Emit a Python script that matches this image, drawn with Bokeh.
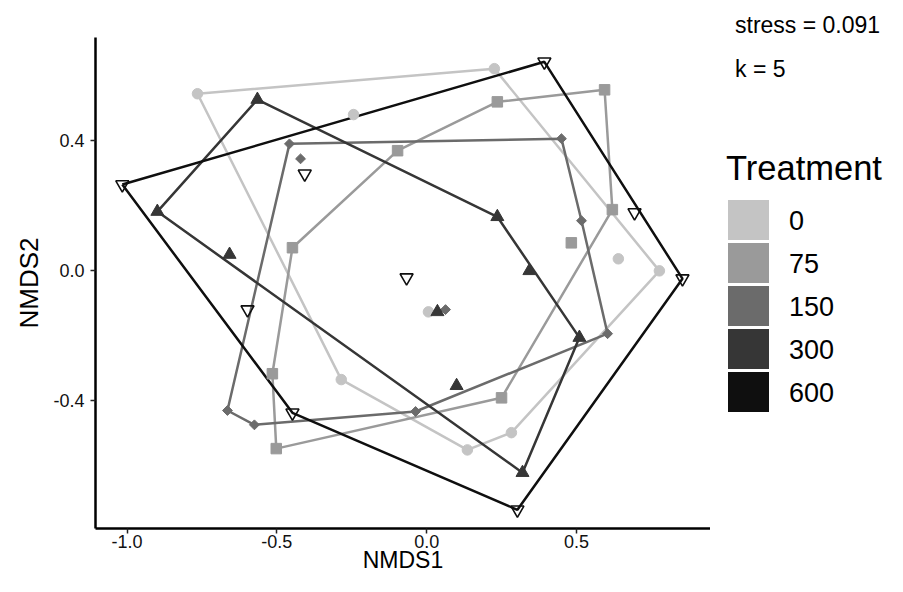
from bokeh.plotting import figure
from bokeh.models import Range1d, FixedTicker, PrintfTickFormatter, Div
from bokeh.layouts import row
from bokeh.embed import file_html
from bokeh.resources import INLINE

# ---------------- data ----------------
treatments = ["0", "75", "150", "300", "600"]
colors = ["#c4c4c4", "#9a9a9a", "#6b6b6b", "#363636", "#0f0f0f"]
markers = ["circle", "square", "diamond", "triangle", "inverted_triangle"]

nmds1_t0 = [-0.765, 0.226, -0.244, 0.640, 0.777, 0.283, 0.136, -0.285, 0.006]
nmds2_t0 = [0.543, 0.620, 0.479, 0.036, -0.001, -0.498, -0.551, -0.335, -0.127]

nmds1_t75 = [0.236, 0.594, 0.620, 0.483, 0.250, -0.502, -0.515, -0.448, -0.097]
nmds2_t75 = [0.518, 0.555, 0.187, 0.085, -0.391, -0.547, -0.317, 0.070, 0.368]

nmds1_t150 = [-0.458, 0.450, 0.517, 0.604, -0.037, -0.575, -0.665, -0.421, 0.063]
nmds2_t150 = [0.389, 0.405, 0.153, -0.194, -0.433, -0.474, -0.430, 0.343, -0.120]

nmds1_t300 = [-0.565, 0.236, 0.343, 0.510, 0.320, 0.100, -0.658, -0.899, 0.036]
nmds2_t300 = [0.525, 0.165, -0.001, -0.206, -0.621, -0.354, 0.049, 0.181, -0.127]

nmds1_t600 = [-1.016, 0.393, 0.854, 0.303, -0.448, -0.407, -0.598, 0.694, -0.067]
nmds2_t600 = [0.264, 0.641, -0.025, -0.735, -0.437, 0.297, -0.120, 0.178, -0.022]

x_ticks = [-1.0, -0.5, 0.0, 0.5]
y_ticks = [-0.4, 0.0, 0.4]
stress = 0.091
k_dims = 5

groups = [
    (nmds1_t0, nmds2_t0),
    (nmds1_t75, nmds2_t75),
    (nmds1_t150, nmds2_t150),
    (nmds1_t300, nmds2_t300),
    (nmds1_t600, nmds2_t600),
]


def convex_hull(xs, ys):
    pts = sorted(zip(xs, ys))

    def cross(o, a, b):
        return (a[0] - o[0]) * (b[1] - o[1]) - (a[1] - o[1]) * (b[0] - o[0])

    lower = []
    for pt in pts:
        while len(lower) >= 2 and cross(lower[-2], lower[-1], pt) <= 0:
            lower.pop()
        lower.append(pt)
    upper = []
    for pt in reversed(pts):
        while len(upper) >= 2 and cross(upper[-2], upper[-1], pt) <= 0:
            upper.pop()
        upper.append(pt)
    hull = lower[:-1] + upper[:-1]
    hull.append(hull[0])
    return [h[0] for h in hull], [h[1] for h in hull]


# ---------------- layout constants ----------------
W_TOTAL, H = 887, 576
B_LEFT, B_TOP = 95, 37
FRAME_W, FRAME_H = 615, 491
B_BOTTOM = H - B_TOP - FRAME_H
W_MAIN = B_LEFT + FRAME_W
XR = (-1.1055, 0.9476)
YR = (-0.7924, 0.7157)
FONT = "Liberation Sans"

p = figure(width=W_MAIN, height=H,
           x_range=Range1d(*XR), y_range=Range1d(*YR),
           output_backend="svg", toolbar_location=None,
           min_border_left=B_LEFT, min_border_right=0,
           min_border_top=B_TOP, min_border_bottom=B_BOTTOM)
p.xgrid.visible = False
p.ygrid.visible = False
p.outline_line_color = None
p.background_fill_color = "white"
p.border_fill_color = "white"

for (gx, gy), col in zip(groups, colors):
    hx, hy = convex_hull(gx, gy)
    p.line(hx, hy, line_color=col, line_width=2.5)

for (gx, gy), col, mk in zip(groups, colors, markers):
    if mk == "inverted_triangle":
        p.scatter(gx, gy, marker=mk, size=13, fill_alpha=0,
                  line_color=col, line_width=1.6)
    elif mk == "diamond":
        p.scatter(gx, gy, marker="square", angle=0.7854, size=7,
                  fill_color=col, line_color=col)
    elif mk == "triangle":
        p.scatter(gx, gy, marker=mk, size=13, fill_color=col, line_color=col)
    else:
        p.scatter(gx, gy, marker=mk, size=10.5, fill_color=col, line_color=col)

p.xaxis.ticker = FixedTicker(ticks=x_ticks)
p.yaxis.ticker = FixedTicker(ticks=y_ticks)
for ax in (p.xaxis[0], p.yaxis[0]):
    ax.formatter = PrintfTickFormatter(format="%.1f")
    ax.axis_line_color = "black"
    ax.axis_line_width = 2.5
    ax.major_tick_line_color = "#222222"
    ax.major_tick_line_width = 1.5
    ax.major_tick_in = 0
    ax.major_tick_out = 5
    ax.minor_tick_line_color = None
    ax.major_label_text_font = FONT
    ax.major_label_text_font_size = "18px"
    ax.major_label_text_color = "#111111"
    ax.axis_label_text_font = FONT
    ax.axis_label_text_font_style = "normal"
    ax.axis_label_text_color = "black"

p.yaxis.major_label_standoff = 6
p.yaxis.axis_label = "NMDS2"
p.yaxis.axis_label_text_font_size = "26px"
p.yaxis.axis_label_standoff = 6

p.xaxis.major_label_standoff = 1
p.xaxis.axis_label = "NMDS1"
p.xaxis.axis_label_text_font_size = "23px"
p.xaxis.axis_label_standoff = -4

# ---------------- side panel: annotation + legend (inline SVG text) ----------------
W_SIDE = W_TOTAL - W_MAIN
key_left, key_w, key_h, key_gap, key_top = 18, 41, 40, 3, 200
label_left = 79

parts = [f'<svg xmlns="http://www.w3.org/2000/svg" width="{W_SIDE}" height="{H}" '
         f'style="display:block">']
parts.append(f'<text x="25" y="33" font-family="Lato" font-size="23" fill="#000">'
             f'stress = {stress:.3f}</text>')
parts.append(f'<text x="25" y="77" font-family="Lato" font-size="23" fill="#000">'
             f'k = {k_dims}</text>')
parts.append(f'<text x="16" y="180" font-family="{FONT}" font-size="34.5" fill="#000">'
             f'Treatment</text>')
for i, (lab, col) in enumerate(zip(treatments, colors)):
    top = key_top + i * (key_h + key_gap)
    parts.append(f'<rect x="{key_left}" y="{top}" width="{key_w}" height="{key_h}" '
                 f'fill="{col}"/>')
    parts.append(f'<text x="{label_left}" y="{top + key_h / 2 + 9.5}" font-family="{FONT}" '
                 f'font-size="27" fill="#000">{lab}</text>')
parts.append('</svg>')

side = Div(text="".join(parts), width=W_SIDE, height=H, margin=0)

layout = row(p, side)
open("out.html", "w").write(file_html(layout, INLINE, title="NMDS"))
